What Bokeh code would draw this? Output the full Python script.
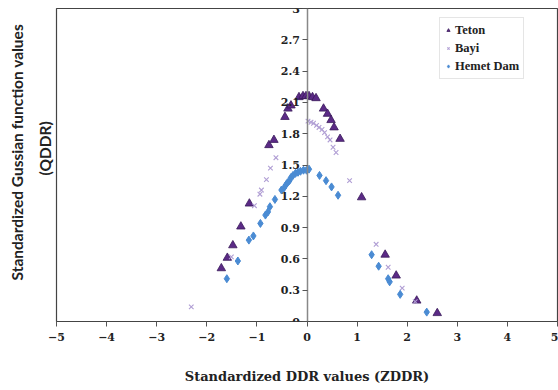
from bokeh.plotting import figure
from bokeh.models import (ColumnDataSource, FixedTicker, CustomJSTickFormatter,
                          Legend, LegendItem, Title)
from bokeh.embed import file_html
from bokeh.resources import INLINE

# ---- data ----
teton_x = [-1.71, -1.59, -1.48, -1.32, -1.15, -0.76, -0.66, -0.44, -0.38, -0.32,
           -0.16, -0.08, -0.02, 0.04, 0.11, 0.18,
           0.33, 0.41, 0.48, 0.54, 0.66, 1.09, 1.56, 1.78, 2.19, 2.60]
teton_y = [0.51, 0.61, 0.73, 0.91, 1.13, 1.69, 1.74, 1.96, 2.04, 2.07,
           2.15, 2.16, 2.16, 2.16, 2.15, 2.14,
           2.04, 1.99, 1.93, 1.86, 1.75, 1.19, 0.64, 0.44, 0.20, 0.08]

bayi_x = [-2.31, -1.51, -1.05, -0.94, -0.91, -0.81, -0.73, -0.62,
          0.02, 0.08, 0.13, 0.19, 0.24, 0.30, 0.35, 0.41, 0.46, 0.52, 0.58,
          0.85, 1.38, 1.62, 1.90, 2.16]
bayi_y = [0.14, 0.62, 1.11, 1.22, 1.26, 1.36, 1.47, 1.57,
          1.92, 1.91, 1.90, 1.88, 1.86, 1.84, 1.81, 1.77, 1.74, 1.67, 1.62,
          1.35, 0.74, 0.52, 0.32, 0.19]

hemet_x = [-1.60, -1.38, -1.16, -1.07, -0.93, -0.83, -0.78, -0.74, -0.64, -0.51,
           -0.46, -0.42, -0.39, -0.35, -0.32, -0.28, -0.23, -0.18, -0.13, -0.07,
           -0.01, 0.04, 0.25, 0.38, 0.49, 0.62, 1.29, 1.43, 1.62, 1.65, 1.86, 2.39]
hemet_y = [0.41, 0.58, 0.78, 0.82, 0.94, 1.02, 1.05, 1.10, 1.17, 1.26,
           1.28, 1.31, 1.33, 1.35, 1.38, 1.40, 1.42, 1.43, 1.44, 1.45,
           1.45, 1.46, 1.40, 1.35, 1.29, 1.21, 0.64, 0.53, 0.41, 0.38, 0.26, 0.09]

x_ticks = [-5, -4, -3, -2, -1, 0, 1, 2, 3, 4, 5]
y_ticks = [0, 0.3, 0.6, 0.9, 1.2, 1.5, 1.8, 2.1, 2.4, 2.7, 3]

series_names = ["Teton", "Bayi", "Hemet Dam"]

# ---- figure ----
p = figure(width=558, height=390, x_range=(-5, 5), y_range=(0, 3),
           output_backend="svg", toolbar_location=None,
           min_border_left=0, min_border_right=1, min_border_top=8, min_border_bottom=69)
p.background_fill_color = "white"
p.border_fill_color = "white"
p.grid.visible = False
p.outline_line_color = "#444444"
p.outline_line_width = 1.2

tick_font = "DejaVu Serif"

p.xaxis.ticker = FixedTicker(ticks=x_ticks)
p.xaxis.major_tick_in = 0
p.xaxis.major_tick_out = 5
p.xaxis.minor_tick_line_color = None
p.xaxis.axis_line_color = "#444444"
p.xaxis.axis_line_width = 1.2
p.xaxis.major_tick_line_color = "#555555"
p.xaxis.major_label_text_font = tick_font
p.xaxis.major_label_text_font_style = "bold"
p.xaxis.major_label_text_font_size = "11px"
p.xaxis.major_label_text_color = "#222222"
p.xaxis.major_label_standoff = 6
p.xaxis.axis_label = "Standardized DDR values (ZDDR)"
p.xaxis.axis_label_text_font = "DejaVu Serif"
p.xaxis.axis_label_text_font_style = "bold"
p.xaxis.axis_label_text_font_size = "13px"
p.xaxis.axis_label_text_color = "#222222"
p.xaxis.axis_label_standoff = 25

p.yaxis.fixed_location = 0
p.yaxis.ticker = FixedTicker(ticks=y_ticks)
p.yaxis.formatter = CustomJSTickFormatter(code="return (Math.round(tick*10)/10).toString();")
p.yaxis.major_tick_in = 0
p.yaxis.major_tick_out = 5
p.yaxis.minor_tick_line_color = None
p.yaxis.axis_line_color = "#888888"
p.yaxis.axis_line_width = 1.5
p.yaxis.major_tick_line_color = "#555555"
p.yaxis.major_label_text_font = tick_font
p.yaxis.major_label_text_font_style = "bold"
p.yaxis.major_label_text_font_size = "11px"
p.yaxis.major_label_text_color = "#222222"
p.yaxis.major_label_standoff = 2

# y title (two lines) on the left; first added sits next to the frame
t_sub = Title(text="(QDDR)", align="left", text_font="Lato", text_font_style="bold",
              text_font_size="15.5px", text_color="#222222", offset=146, standoff=6)
t_main = Title(text="Standardized Gussian function values", align="left", text_font="Lato",
               text_font_style="bold", text_font_size="15.5px", text_color="#222222",
               offset=41)
p.add_layout(t_sub, "left")
p.add_layout(t_main, "left")

src_t = ColumnDataSource(dict(x=teton_x, y=teton_y))
src_b = ColumnDataSource(dict(x=bayi_x, y=bayi_y))
src_h = ColumnDataSource(dict(x=hemet_x, y=hemet_y))

r_t = p.scatter("x", "y", source=src_t, marker="triangle", size=8.5,
                fill_color="#5B2A86", line_color="#3A1A5A", line_width=0.8)
r_b = p.scatter("x", "y", source=src_b, marker="x", size=6.5,
                line_color="#B09ED4", line_width=1.1)
r_h = p.scatter("x", "y", source=src_h, marker="diamond", size=8,
                fill_color="#4A8BD3", line_color="#4A8BD3")

legend = Legend(items=[LegendItem(label=series_names[0], renderers=[r_t]),
                       LegendItem(label=series_names[1], renderers=[r_b]),
                       LegendItem(label=series_names[2], renderers=[r_h])],
                location=(383, 242), label_text_font="Liberation Serif",
                label_text_font_style="bold", label_text_font_size="12.5px",
                label_text_color="#222222", glyph_width=8, glyph_height=16,
                label_height=16, label_standoff=3, spacing=2, padding=4, margin=0,
                border_line_color="#cccccc", background_fill_alpha=1)
p.add_layout(legend, "center")

open("out.html", "w").write(file_html(p, INLINE))
